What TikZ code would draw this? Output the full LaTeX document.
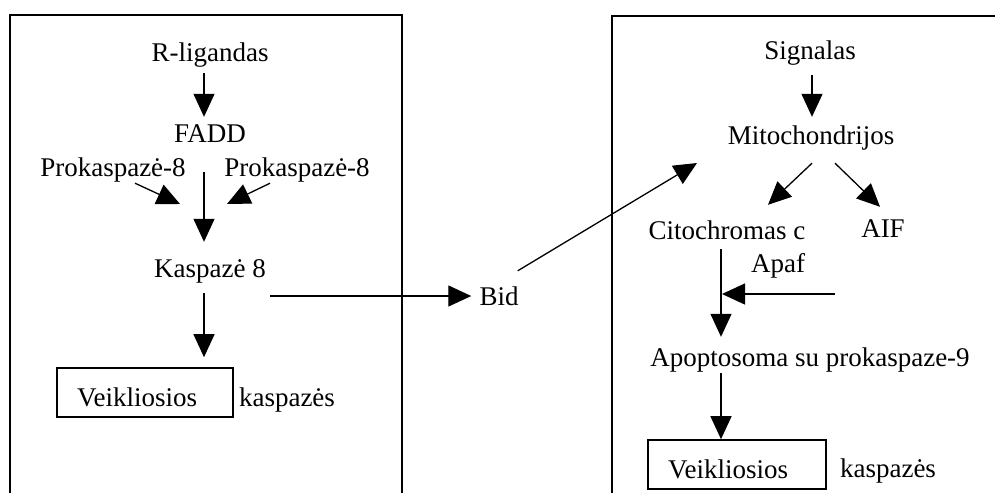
\documentclass[tikz,border=0pt]{standalone}
\usepackage{fontspec}
\setmainfont{Liberation Serif}
\usetikzlibrary{arrows.meta,positioning,calc}

\begin{document}
\begin{tikzpicture}[
  x=1pt,y=-1pt,
  font=\fontsize{27}{32}\selectfont,
  lbl/.style={inner sep=0pt,text height=18pt,text depth=0pt},
  actbox/.style={draw,line width=1.6pt,minimum height=49pt,text width=136pt,
                 inner xsep=20pt,inner ysep=0pt,align=left,
                 text height=27pt,text depth=0pt},
  arr/.style={-{Triangle[length=23pt,width=21pt]},line width=1.3pt},
  frame/.style={line width=1.5pt},
  ]
  \useasboundingbox (0,0) rectangle (995,493);
  % the two open frames
  \draw[frame] (10,493) -- (10,15) -- (402,15) -- (402,493);
  \draw[frame] (612,493) -- (612,16) -- (995,16);
  % left frame: receptor path
  \node[lbl] (rlig)  at (210,52)  {R-ligandas};
  \node[lbl] (fadd)  at (210,133) {FADD};
  \node[lbl] (prol)  at (113,167) {Prokaspazė-8};
  \node[lbl] (pror)  at (297,167) {Prokaspazė-8};
  \node[lbl] (kasp8) at (210,268) {Kaspazė 8};
  \node[actbox] (act1) at (145,392.5) {Veikliosios};
  \node[lbl] (kasp1) at (287,397) {kaspazės};
  \coordinate (joinL) at (180,204);
  \coordinate (joinR) at (227,204);
  \draw[arr,shorten <=12pt,shorten >=7pt] ([xshift=-6pt]rlig.south) -- ([xshift=-6pt]fadd.north);
  \draw[arr,shorten <=30pt,shorten >=17pt] ([xshift=-6pt]fadd.south) -- ([xshift=-6pt]kasp8.north);
  \draw[arr] ([shift={(22,7)}]prol.south) -- (joinL);
  \draw[arr] ([shift={(-27,7)}]pror.south) -- (joinR);
  \draw[arr,shorten <=16pt,shorten >=10pt] ([xshift=-6pt]kasp8.south) -- ([xshift=-6pt]kasp8.south |- act1.north);
  % Bid crosses over
  \node[lbl] (bid) at (499,296) {Bid};
  \draw[arr,shorten >=8pt] ([xshift=4pt]kasp8.east |- bid.west) -- (bid.west);
  \coordinate (mitoin) at (697,163);
  \draw[arr] ([shift={(-1,-16)}]bid.north east) -- (mitoin);
  % right frame: mitochondrial path
  \node[lbl] (sig)  at (810,50)  {Signalas};
  \node[lbl] (mito) at (811,135) {Mitochondrijos};
  \node[lbl] (cyt)  at (727,230) {Citochromas c};
  \node[lbl] (aif)  at (883,228) {AIF};
  \node[lbl] (apaf) at (778,263) {Apaf};
  \node[lbl] (apo)  at (810,357) {Apoptosoma su prokaspaze-9};
  \node[actbox,text width=138pt] (act2) at (737,464.5) {Veikliosios};
  \node[lbl] (kasp2) at (888,468) {kaspazės};
  \coordinate (apafin) at (722,294);
  \draw[arr,shorten <=16pt,shorten >=9pt] ([xshift=2pt]sig.south) -- ([xshift=1pt]mito.north);
  \draw[arr] ([shift={(1,19)}]mito.south) -- ([shift={(41,-16)}]cyt.north);
  \draw[arr] ([shift={(24,19)}]mito.south) -- ([shift={(-3,-12)}]aif.north);
  \draw[arr,shorten >=11pt] ([shift={(-6,10)}]cyt.south) coordinate (cytdown) -- (cytdown |- apo.north);
  \draw[arr] ([shift={(57,31)}]apaf.center) -- (apafin);
  \draw[arr,shorten <=7pt] ([xshift=-16pt]apo.south -| act2.north) -- ([xshift=-16pt]act2.north);
\end{tikzpicture}
\end{document}
